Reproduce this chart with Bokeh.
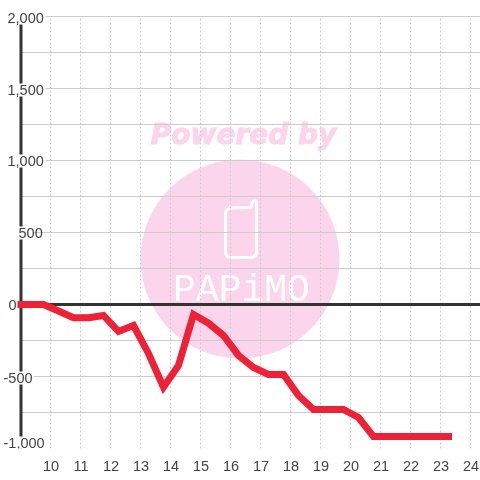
from bokeh.plotting import figure
from bokeh.models import Range1d, FixedTicker, Label
from bokeh.embed import file_html
from bokeh.resources import INLINE

hours = [9, 9.75, 10.25, 10.75, 11.25, 11.75, 12.25, 12.75, 13.25, 13.75, 14.25, 14.75, 15.25, 15.75,
         16.25, 16.75, 17.25, 17.75, 18.25, 18.75, 19.25, 19.75, 20.25, 20.75, 21.25, 21.75, 22.25, 22.75, 23.25]
balance = [0, 0, -45, -92, -92, -76, -187, -146, -340, -574, -424, -70, -130, -215,
           -354, -437, -486, -486, -632, -729, -729, -729, -785, -917, -917, -917, -917, -917, -917]
x_ticks = list(range(10, 25))
y_grid = [-1000, -750, -500, -250, 0, 250, 500, 750, 1000, 1250, 1500, 1750, 2000]
y_labels = ["-1,000", "-500", "0", "500", "1,000", "1,500", "2,000"]
y_label_px = [442, 377, 304, 232, 160, 89, 17]
y_label_left = [3, 3, 8, 18, 7, 7, 7]
y_label_right = [45, 33, 18, 33, 45, 45, 45]

FONT = "Liberation Sans"
TXT = "#444444"
PINK = "#FBD5EC"
FH = 448

p = figure(width=480, height=480, output_backend="svg", toolbar_location=None,
           x_range=Range1d(8.317, 24.317), y_range=Range1d(-1000, 2111),
           y_axis_location=None, min_border=0, min_border_left=0, min_border_right=0,
           min_border_top=0, min_border_bottom=32, outline_line_color=None,
           styles={"position": "fixed", "left": "0", "top": "0"})

p.xaxis.ticker = FixedTicker(ticks=x_ticks)
p.xaxis.axis_line_color = None
p.xaxis.major_tick_line_color = None
p.xaxis.minor_tick_line_color = None
p.xaxis.major_label_text_font = FONT
p.xaxis.major_label_text_font_size = "14.5px"
p.xaxis.major_label_text_color = TXT
p.xaxis.major_label_standoff = 6

p.xgrid.ticker = FixedTicker(ticks=x_ticks)
p.xgrid.grid_line_color = "#CCCCCC"
p.xgrid.grid_line_dash = "2 2"
p.xgrid.cross_bounds = (-1000, 2000)
p.ygrid.ticker = FixedTicker(ticks=y_grid)
p.ygrid.grid_line_color = "#CCCCCC"
p.ygrid.cross_bounds = (9, 24.317)
p.xgrid.level = "underlay"
p.ygrid.level = "underlay"


def X(px):
    return 10 + (px - 50.5) / 30


def Y(py):
    return (304 - py) / 0.144


# watermark
p.scatter([X(239.5)], [Y(258.5)], size=199, color=PINK, line_color=None, level="image")
p.add_layout(Label(x=243, y=FH - 134, x_units="screen", y_units="screen", text="Powered by",
                   text_font="DejaVu Sans", text_font_style="bold italic", text_font_size="28px",
                   text_color=PINK, text_outline_color=PINK, text_align="center", text_baseline="middle", level="image"))
p.add_layout(Label(x=241, y=FH - 290, x_units="screen", y_units="screen", text="PAPiMO",
                   text_font="Liberation Mono", text_font_size="38px",
                   text_color="#FFFFFF", text_align="center", text_baseline="middle", level="image"))
px = [225, 225, 226, 228, 231, 250, 251, 251.5, 252.5, 254, 255.5, 256, 256, 255, 253, 250, 231, 228, 226, 225, 225]
py = [252, 213, 210, 208, 207.5, 207, 206, 203, 201, 200.5, 201, 203, 252, 255, 256.5, 257, 257, 256.5, 255, 252, 240]
p.line([X(a) for a in px], [Y(b) for b in py], line_color="#FFFFFF", line_width=3, line_join="round", level="image")

# axis lines
p.segment([X(20.5), X(20.5)], [0, -1000], [X(480), X(20.5)], [0, 2000], line_color="#333333", line_width=3)

# white plates behind the y labels, over the axis line and grid
p.quad(left=[X(a - 1) for a in y_label_left], right=[X(a) for a in y_label_right],
       top=[Y(b - 6) for b in y_label_px], bottom=[Y(b + 7) for b in y_label_px],
       fill_color="#FFFFFF", line_color=None)

for t, py_, left in zip(y_labels, y_label_px, y_label_left):
    p.add_layout(Label(x=left, y=FH - py_, x_units="screen", y_units="screen", text=t,
                       text_font=FONT, text_font_size="14.5px", text_color=TXT,
                       text_align="left", text_baseline="middle"))

# series
p.line(hours, balance, line_color="#EE2136", line_width=7, line_join="miter", line_cap="square", level="overlay")

open("out.html", "w").write(file_html(p, INLINE))
